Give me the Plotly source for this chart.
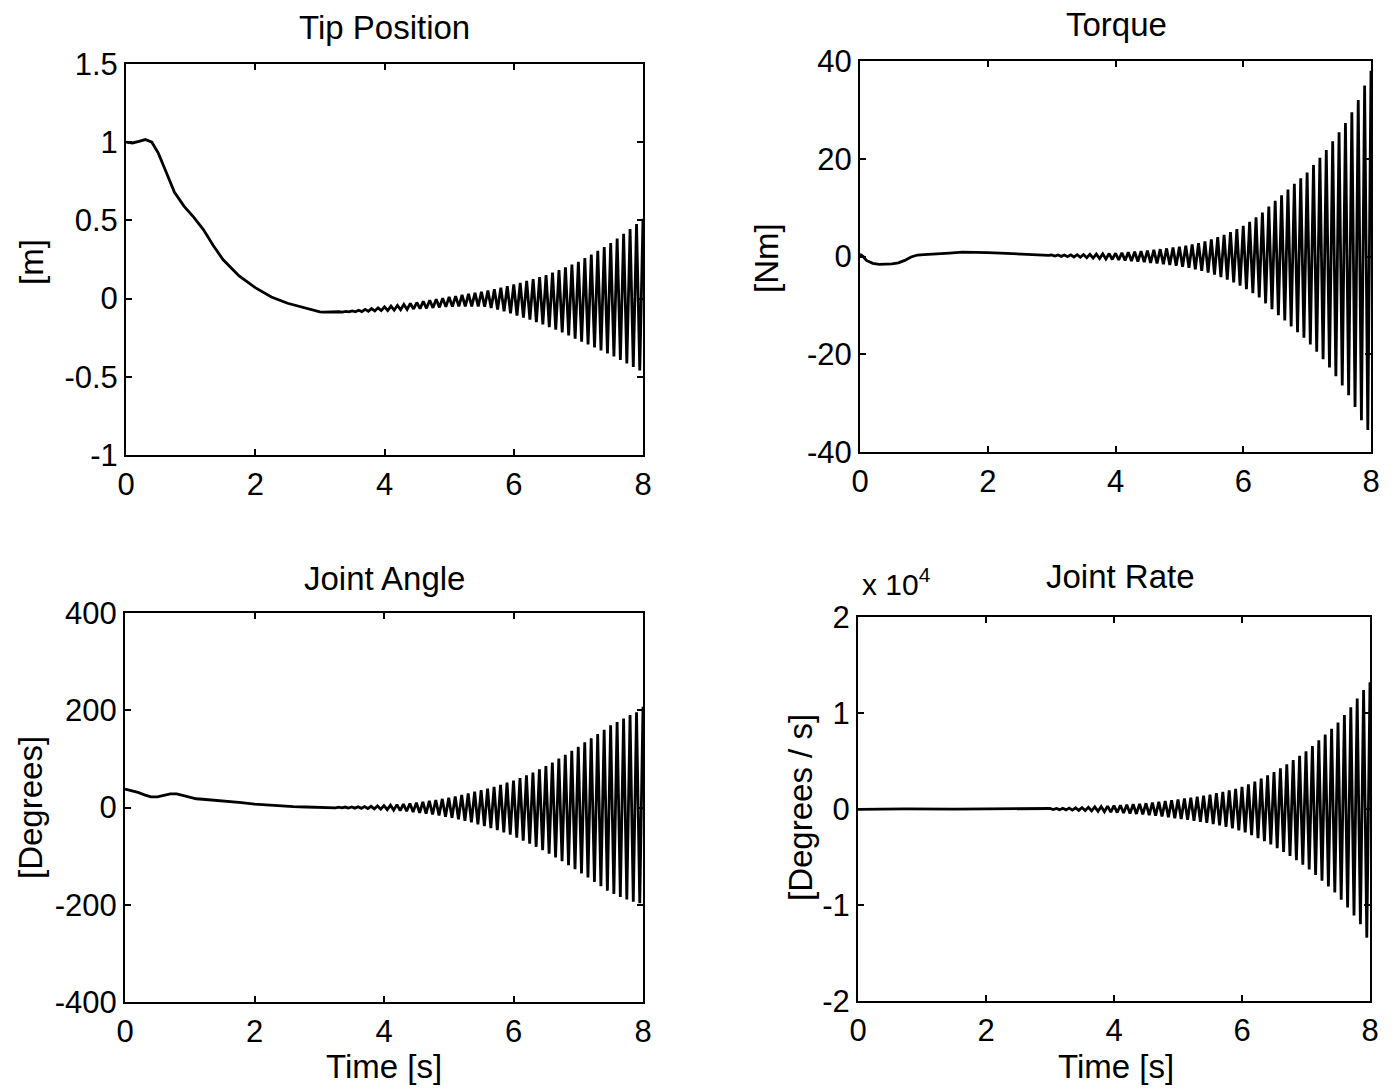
import plotly.graph_objects as go

# ---------------------------------------------------------------
# Simulation record of a flexible single-link arm (0 - 8 s)
# Smooth start-up portion, followed by the growing ~10 Hz
# oscillation given as its successive peaks and troughs.
# ---------------------------------------------------------------

# common time stamps of the oscillation extrema [s]
peak_t = [3.0, 3.1, 3.2, 3.3, 3.4, 3.5, 3.6, 3.7, 3.8, 3.9,
          4.0, 4.1, 4.2, 4.3, 4.4, 4.5, 4.6, 4.7, 4.8, 4.9,
          5.0, 5.1, 5.2, 5.3, 5.4, 5.5, 5.6, 5.7, 5.8, 5.9,
          6.0, 6.1, 6.2, 6.3, 6.4, 6.5, 6.6, 6.7, 6.8, 6.9,
          7.0, 7.1, 7.2, 7.3, 7.4, 7.5, 7.6, 7.7, 7.8, 7.9, 8.0]
trough_t = [3.05, 3.15, 3.25, 3.35, 3.45, 3.55, 3.65, 3.75, 3.85, 3.95,
            4.05, 4.15, 4.25, 4.35, 4.45, 4.55, 4.65, 4.75, 4.85, 4.95,
            5.05, 5.15, 5.25, 5.35, 5.45, 5.55, 5.65, 5.75, 5.85, 5.95,
            6.05, 6.15, 6.25, 6.35, 6.45, 6.55, 6.65, 6.75, 6.85, 6.95,
            7.05, 7.15, 7.25, 7.35, 7.45, 7.55, 7.65, 7.75, 7.85, 7.95]

# ---- Tip position [m] ----
tip_t = [0, 0.1, 0.2, 0.3, 0.4, 0.5, 0.6, 0.75, 0.9, 1.05, 1.2, 1.35, 1.5,
         1.75, 2.0, 2.25, 2.5, 2.75, 2.95]
tip_y = [1.0, 0.995, 1.005, 1.017, 1.0, 0.93, 0.83, 0.68, 0.59, 0.52, 0.44,
         0.34, 0.25, 0.145, 0.07, 0.01, -0.03, -0.06, -0.08]
tip_peaks = [-0.085, -0.085, -0.085, -0.084, -0.082, -0.079, -0.074, -0.069, -0.064, -0.059,
             -0.053, -0.048, -0.043, -0.037, -0.031, -0.025, -0.018, -0.011, -0.004, 0.003,
             0.010, 0.016, 0.023, 0.030, 0.037, 0.044, 0.052, 0.060, 0.069, 0.079,
             0.090, 0.101, 0.113, 0.125, 0.137, 0.150, 0.166, 0.183, 0.200, 0.218,
             0.236, 0.259, 0.282, 0.306, 0.330, 0.355, 0.384, 0.414, 0.445, 0.477, 0.510]
tip_troughs = [-0.086, -0.086, -0.086, -0.086, -0.085, -0.084, -0.083, -0.081, -0.079, -0.077,
               -0.076, -0.074, -0.071, -0.069, -0.066, -0.064, -0.062, -0.059, -0.056, -0.053,
               -0.051, -0.050, -0.050, -0.050, -0.050, -0.052, -0.060, -0.070, -0.082, -0.095,
               -0.108, -0.121, -0.135, -0.150, -0.165, -0.182, -0.199, -0.217, -0.236, -0.256,
               -0.275, -0.293, -0.312, -0.331, -0.350, -0.370, -0.392, -0.414, -0.437, -0.460]

# ---- Motor torque [Nm] ----
torque_t = [0, 0.05, 0.1, 0.2, 0.3, 0.4, 0.5, 0.6, 0.7, 0.8, 0.9, 1.0, 1.2,
            1.4, 1.6, 1.8, 2.0, 2.2, 2.4, 2.6, 2.8, 2.95]
torque_y = [0.5, 0.0, -0.8, -1.4, -1.6, -1.6, -1.5, -1.3, -0.8, -0.1, 0.3, 0.4,
            0.5, 0.7, 0.9, 0.9, 0.8, 0.7, 0.55, 0.45, 0.35, 0.25]
torque_peaks = [0.30, 0.31, 0.32, 0.34, 0.37, 0.40, 0.44, 0.48, 0.54, 0.60,
                0.67, 0.76, 0.86, 0.97, 1.09, 1.22, 1.36, 1.50, 1.66, 1.83,
                2.0, 2.2, 2.45, 2.75, 3.1, 3.5, 3.95, 4.45, 5.0, 5.6,
                6.3, 7.1, 8.0, 9.0, 10.2, 11.4, 12.5, 13.7, 14.9, 16.0,
                17.2, 18.7, 20.2, 21.8, 23.6, 25.4, 27.3, 29.5, 32.0, 35.0, 38.0]
torque_troughs = [0.08, 0.03, -0.03, -0.09, -0.16, -0.24, -0.32, -0.41, -0.51, -0.61,
                  -0.72, -0.81, -0.92, -1.03, -1.16, -1.29, -1.43, -1.58, -1.75, -1.92,
                  -2.1, -2.33, -2.6, -2.92, -3.3, -3.72, -4.2, -4.72, -5.3, -5.95,
                  -6.7, -7.5, -8.4, -9.6, -10.8, -12.0, -13.1, -14.3, -15.5, -16.6,
                  -18.0, -19.5, -21.0, -22.7, -24.5, -26.4, -28.4, -30.8, -33.5, -35.5]

# ---- Joint angle [deg] ----
angle_t = [0, 0.1, 0.2, 0.3, 0.4, 0.5, 0.6, 0.7, 0.8, 0.9, 1.0, 1.1, 1.2, 1.4,
           1.6, 1.8, 2.0, 2.2, 2.4, 2.6, 2.8, 2.95]
angle_y = [38, 35, 31, 26, 22, 22, 25, 28, 28, 25, 21, 18, 17, 15, 13, 10, 7,
           5, 3, 2, 1, 0.5]
angle_peaks = [0.3, 0.4, 0.5, 0.7, 0.9, 1.2, 1.5, 1.9, 2.4, 3.1,
               4.0, 4.9, 5.9, 7.0, 8.4, 10.0, 11.7, 13.5, 15.5, 17.7,
               20.0, 22.8, 25.8, 29.0, 32.4, 35.5, 39.0, 42.7, 46.7, 51.0,
               55.5, 60.5, 66.0, 72.0, 78.5, 85.0, 92.5, 100.5, 108.5, 116.5,
               125.0, 134.0, 142.5, 151.0, 160.0, 169.0, 176.0, 183.0, 190.0, 196.0, 207.0]
angle_troughs = [-0.35, -0.45, -0.6, -0.8, -1.1, -1.35, -1.7, -2.15, -2.75, -3.55,
                 -4.45, -5.4, -6.45, -7.7, -9.2, -10.85, -12.6, -14.5, -16.6, -18.85,
                 -21.4, -24.3, -27.4, -30.7, -34.5, -38.5, -42.5, -46.8, -51.3, -56.0,
                 -62.0, -68.0, -74.5, -81.0, -88.0, -95.0, -102.5, -110.5, -118.5, -127.0,
                 -135.5, -144.0, -153.0, -162.0, -171.0, -178.0, -184.0, -189.0, -194.0, -197.0]

# ---- Joint rate [deg/s] ----
rate_t = [0, 0.4, 0.75, 1.5, 2.95]
rate_y = [-40, 0, 10, -10, -5]
rate_peaks = [50, 60, 80, 100, 125, 150, 180, 220, 260, 300,
              350, 390, 440, 490, 540, 600, 670, 740, 820, 910,
              1000, 1090, 1180, 1280, 1390, 1500, 1640, 1780, 1940, 2110,
              2300, 2570, 2860, 3170, 3500, 3850, 4250, 4660, 5090, 5540,
              6000, 6550, 7150, 7750, 8350, 9000, 9800, 10600, 11500, 12400, 13200]
rate_troughs = [-55, -70, -90, -112, -138, -165, -200, -240, -280, -325,
                -370, -415, -465, -515, -570, -635, -705, -780, -865, -955,
                -1045, -1135, -1230, -1335, -1445, -1570, -1710, -1860, -2030, -2220,
                -2450, -2730, -3030, -3350, -3700, -4080, -4480, -4900, -5340, -5800,
                -6300, -6880, -7480, -8080, -8700, -9450, -10250, -11100, -12000, -13400]

# axis tick settings
x_ticks = [0, 2, 4, 6, 8]
tip_ticks = [-1, -0.5, 0, 0.5, 1, 1.5]
tip_labels = ["-1", "-0.5", "0", "0.5", "1", "1.5"]
torque_ticks = [-40, -20, 0, 20, 40]
angle_ticks = [-400, -200, 0, 200, 400]
rate_ticks = [-20000, -10000, 0, 10000, 20000]
rate_labels = ["-2", "-1", "0", "1", "2"]


def assemble(t_smooth, y_smooth, peaks, troughs):
    """Join the smooth part with the alternating peak/trough sequence."""
    xs, ys = list(t_smooth), list(y_smooth)
    for k in range(len(troughs)):
        xs += [peak_t[k], trough_t[k]]
        ys += [peaks[k], troughs[k]]
    xs.append(peak_t[len(troughs)])
    ys.append(peaks[len(troughs)])
    return xs, ys


W, H = 1396, 1090
FONT = "Liberation Sans, Arial, Helvetica, sans-serif"
TICK_SIZE = 31
LABEL_SIZE = 33

fig = go.Figure()

panels = [
    # (xaxis, yaxis, data, x-extent px, y-extent px, y-range, tickvals, ticktext)
    ("x", "y", assemble(tip_t, tip_y, tip_peaks, tip_troughs),
     [126, 643], [64, 455], [-1, 1.5], tip_ticks, tip_labels),
    ("x2", "y2", assemble(torque_t, torque_y, torque_peaks, torque_troughs),
     [860, 1371], [61, 452], [-40, 40], torque_ticks, [str(v) for v in torque_ticks]),
    ("x3", "y3", assemble(angle_t, angle_y, angle_peaks, angle_troughs),
     [125, 643], [613, 1002], [-400, 400], angle_ticks, [str(v) for v in angle_ticks]),
    ("x4", "y4", assemble(rate_t, rate_y, rate_peaks, rate_troughs),
     [858, 1370], [617, 1001], [-20000, 20000], rate_ticks, rate_labels),
]

layout_axes = {}
for xa, ya, (xs, ys), xd, yd, yr, tv, tt in panels:
    fig.add_trace(go.Scatter(x=xs, y=ys, xaxis=xa, yaxis=ya, mode="lines",
                             line=dict(color="black", width=2.8),
                             showlegend=False, hoverinfo="skip"))
    xkey = "xaxis" + xa[1:]
    ykey = "yaxis" + ya[1:]
    common = dict(showline=True, linecolor="black", linewidth=2, mirror="allticks",
                  ticks="inside", ticklen=6, tickwidth=1.5, tickcolor="black",
                  showgrid=False, zeroline=False, automargin=False,
                  tickfont=dict(family=FONT, size=TICK_SIZE, color="black"))
    layout_axes[xkey] = dict(domain=[xd[0] / W, xd[1] / W], range=[0, 8],
                             tickvals=x_ticks, ticktext=[str(v) for v in x_ticks],
                             anchor=ya, ticklabelstandoff=1, **common)
    layout_axes[ykey] = dict(domain=[1 - yd[1] / H, 1 - yd[0] / H], range=yr,
                             tickvals=tv, ticktext=tt, anchor=xa,
                             ticklabelstandoff=0, **common)

fig.update_layout(**layout_axes)


def ann(text, xp, yp, size=LABEL_SIZE, angle=0, xanchor="center"):
    return dict(text=text, x=xp / W, y=1 - yp / H, xref="paper", yref="paper",
                showarrow=False, textangle=angle, xanchor=xanchor, yanchor="middle",
                font=dict(family=FONT, size=size, color="black"))


annotations = [
    ann("Tip Position", 384, 27),
    ann("Torque", 1116, 24),
    ann("Joint Angle", 384, 578),
    ann("Joint Rate", 1120, 576),
    ann("[m]", 31, 262, angle=-90),
    ann("[Nm]", 767, 258, angle=-90),
    ann("[Degrees]", 30, 808, angle=-90),
    ann("[Degrees / s]", 800, 808, angle=-90),
    ann("Time [s]", 384, 1066),
    ann("Time [s]", 1116, 1066),
    ann("x 10<sup>4</sup>", 860, 582, size=30, xanchor="left"),
]

fig.update_layout(width=W, height=H, margin=dict(l=0, r=0, t=0, b=0),
                  paper_bgcolor="white", plot_bgcolor="white",
                  annotations=annotations, showlegend=False)

fig.write_html("out.html")
